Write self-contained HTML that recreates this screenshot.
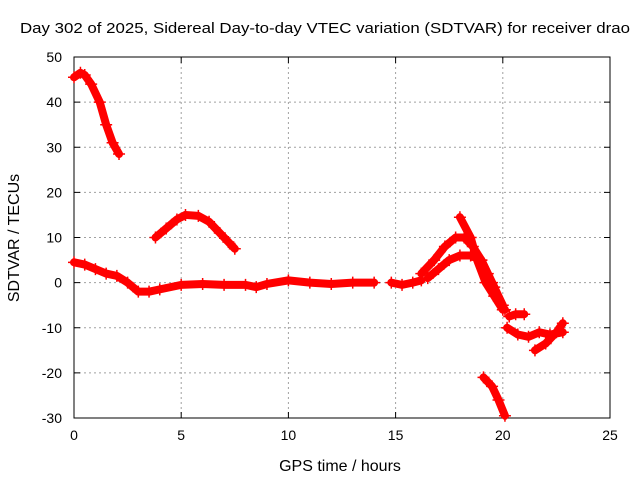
<!DOCTYPE html>
<html><head><meta charset="utf-8"><style>
body{margin:0;background:#fff}
svg{display:block;font-family:"Liberation Sans",sans-serif}
</style></head><body>
<svg id="c" width="640" height="480"></svg>
<script>
const xTicks=[0,5,10,15,20,25];
const yTicks=[-30,-20,-10,0,10,20,30,40,50];
const segA=[[0,45.5],[0.3,46.5],[0.5,46],[0.8,44],[1.2,40],[1.5,35],[1.8,31],[2.1,28.5]];
const segB=[[3.8,10],[4.3,12],[4.8,14],[5.2,15],[5.8,14.8],[6.3,13.5],[6.8,11],[7.2,9],[7.5,7.5]];
const segC=[[0,4.5],[0.5,4],[1,3],[1.5,2],[2,1.5],[2.5,0],[3,-2],[3.5,-2],[4,-1.5],[5,-0.5],[6,-0.3],[7,-0.5],[8,-0.5],[8.5,-1],[9,-0.3],[10,0.5],[11,0],[12,-0.3],[13,0],[14,0]];
const segD=[[14.8,0],[15.3,-0.5],[15.8,0],[16.2,0.5]];
const segE=[[16.2,2],[16.8,5],[17.3,8],[17.8,10],[18.2,10],[18.6,8],[19,5],[19.3,2],[19.6,-1],[19.8,-4],[20.1,-6]];
const segF=[[16.5,1],[17,3],[17.5,5],[18,6],[18.5,6],[19,5],[19.5,0],[20,-5]];
const segG=[[18,14.5],[18.5,10],[18.8,5],[19.2,0],[19.6,-3],[20,-6]];
const segH1=[[20.3,-7.5],[20.6,-7],[21,-7]];
const segH2=[[20.2,-10],[20.7,-11.5],[21.2,-12],[21.7,-11],[22.2,-11.5],[22.8,-11]];
const segH3=[[21.5,-15],[22,-13.5],[22.5,-11],[22.8,-9]];
const segI=[[19.1,-21],[19.5,-23],[19.8,-26],[20.1,-29.5]];
const series=[segA,segB,segC,segD,segE,segF,segG,segH1,segH2,segH3,segI];

const L=74,R=610,T=57,B=418;
const X=v=>L+(v-0)/(25-0)*(R-L);
const Y=v=>B-(v+30)/(80)*(B-T);
const svg=document.getElementById('c');
const NS='http://www.w3.org/2000/svg';
function mk(tag,at,parent){const e=document.createElementNS(NS,tag);for(const k in at)e.setAttribute(k,at[k]);(parent||svg).appendChild(e);return e;}

xTicks.forEach(t=>{
  if(t>0&&t<25){const g=mk('line',{x1:X(t),x2:X(t),y1:T,y2:B,stroke:'#a0a0a0','stroke-dasharray':'2,3'});
  }
  const k=mk('line',{x1:X(t),x2:X(t),y1:B,y2:B-6,stroke:'#000'});
  
  const k2=mk('line',{x1:X(t),x2:X(t),y1:T,y2:T+6,stroke:'#000'});
  
  const tx=mk('text',{x:X(t),y:B+22,'text-anchor':'middle','font-size':14});tx.textContent=t;
  
});
yTicks.forEach(t=>{
  if(t>-30&&t<50){const g=mk('line',{x1:L,x2:R,y1:Y(t),y2:Y(t),stroke:'#a0a0a0','stroke-dasharray':'2,3'});
  }
  const k=mk('line',{x1:L,x2:L+6,y1:Y(t),y2:Y(t),stroke:'#000'});
  
  const k2=mk('line',{x1:R,x2:R-6,y1:Y(t),y2:Y(t),stroke:'#000'});
  
  const tx=mk('text',{x:L-12,y:Y(t)+5,'text-anchor':'end','font-size':14});tx.textContent=t;
  
});
const fr=mk('rect',{x:L,y:T,width:R-L,height:B-T,fill:'none',stroke:'#000'});


series.forEach(s=>{
  const p=mk('polyline',{points:s.map(d=>X(d[0])+','+Y(d[1])).join(' '),fill:'none',stroke:'#f00','stroke-width':8,'stroke-linejoin':'round','stroke-linecap':'round'});
  
  s.forEach(d=>{
    const c=mk('path',{d:`M${X(d[0])-6},${Y(d[1])}h12M${X(d[0])},${Y(d[1])-6}v12`,stroke:'#f00','stroke-width':1.5});
    
  });
});

const ti=mk('text',{x:325,y:33,'text-anchor':'middle','font-size':15,textLength:610,lengthAdjust:'spacingAndGlyphs'});
ti.textContent='Day 302 of 2025, Sidereal Day-to-day VTEC variation (SDTVAR) for receiver drao';

const xl=mk('text',{x:340,y:471,'text-anchor':'middle','font-size':16});
xl.textContent='GPS time / hours';

const yl=mk('text',{x:0,y:0,'text-anchor':'middle','font-size':16,transform:'translate(19,238) rotate(-90)'});
yl.textContent='SDTVAR / TECUs';

</script>
</body></html>
